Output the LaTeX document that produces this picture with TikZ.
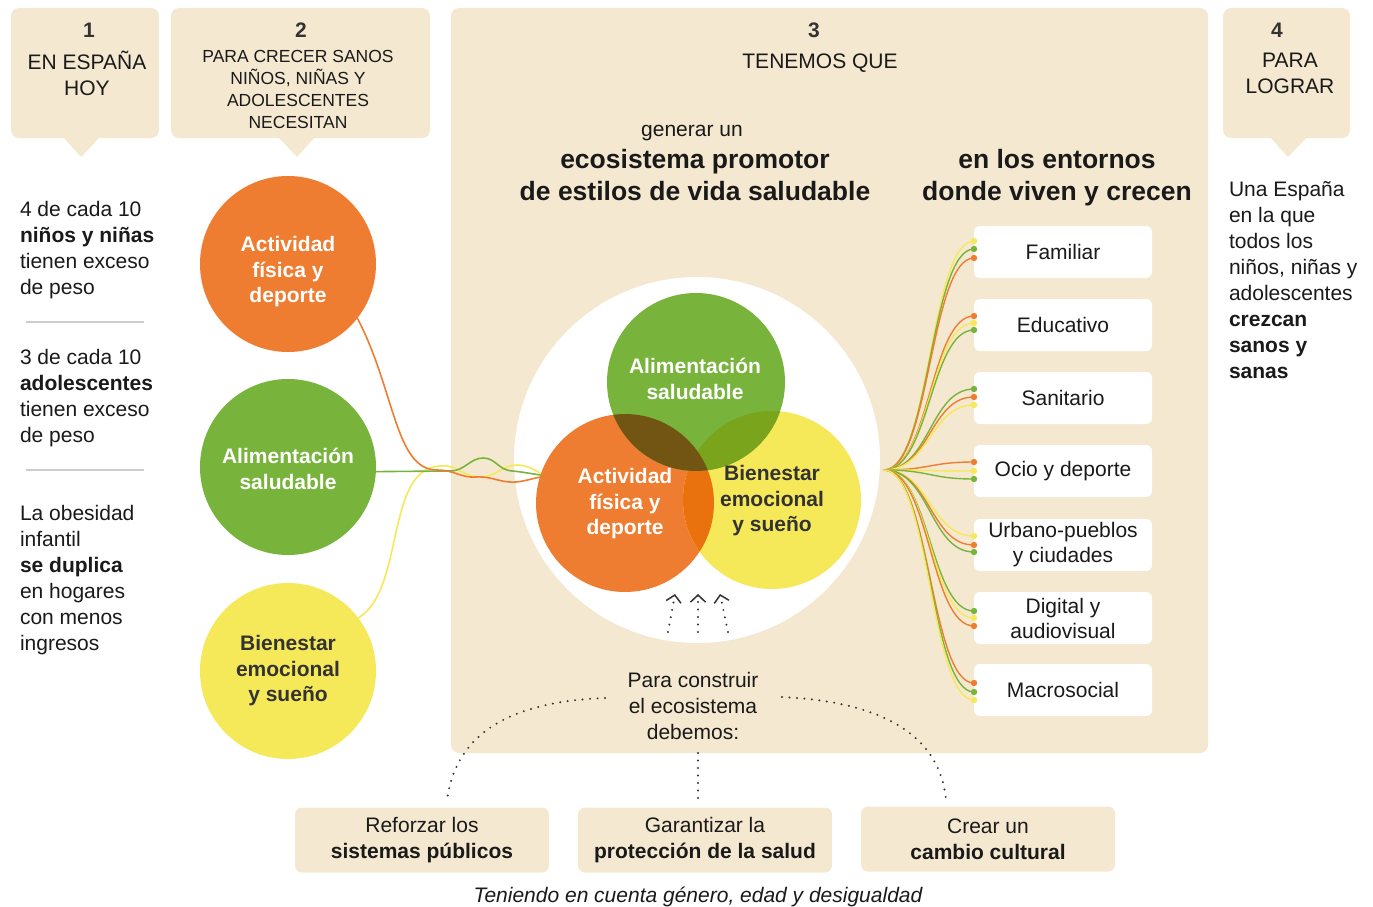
\documentclass[tikz,border=0pt]{standalone}
\usepackage{fontspec}
\setmainfont{Liberation Sans}
\usetikzlibrary{arrows.meta}
\definecolor{beige}{HTML}{F5E8D0}
\definecolor{cor}{HTML}{EE7D31}
\definecolor{cgr}{HTML}{78B43C}
\definecolor{cye}{HTML}{F5E859}
\definecolor{ink}{HTML}{1A1A1A}
\definecolor{numc}{HTML}{333333}
\definecolor{ovog}{HTML}{725512}
\definecolor{ovgy}{HTML}{79A41B}
\definecolor{ovoy}{HTML}{E9720F}
\definecolor{sepc}{HTML}{CCCCCC}
\definecolor{dotc}{HTML}{333333}
\begin{document}
\begin{tikzpicture}[x=1pt,y=-1pt,
  body/.style={font=\fontsize{21}{26}\selectfont, text=ink, inner sep=0pt, outer sep=0pt},
  num/.style={font=\fontsize{21}{26}\selectfont\bfseries, text=numc, inner sep=0pt},
  small/.style={font=\fontsize{17.5}{22}\selectfont, text=ink, inner sep=0pt, align=center},
  big/.style={font=\fontsize{26.5}{32}\selectfont\bfseries, text=ink, inner sep=0pt, align=center},
  ctext/.style={font=\fontsize{21}{25.5}\selectfont\bfseries, inner sep=0pt, align=center},
  bigcirc/.style={circle, inner sep=0pt, outer sep=0pt, minimum size=176pt},
  midcirc/.style={circle, inner sep=0pt, outer sep=0pt, minimum size=178pt},
  envbox/.style={fill=white, rounded corners=6pt, minimum width=178pt, minimum height=52pt, inner sep=0pt, align=center, font=\fontsize{21}{25}\selectfont, text=ink},
  actbox/.style={fill=beige, rounded corners=7pt, minimum width=254pt, minimum height=65pt, inner sep=0pt, align=center, font=\fontsize{21}{26}\selectfont, text=ink},
  link/.style={line width=1.6pt},
  dotline/.style={dotc, line width=2.2pt, line cap=round, dash pattern=on 0pt off 7.5pt},
  chev/.style={-{Straight Barb[length=7pt,width=15pt,line width=1.5pt]}}
]
\path[use as bounding box, fill=white] (0,0) rectangle (1373,907);

% header boxes
\fill[beige, rounded corners=8pt] (11,8) rectangle (159,138);
\fill[beige] (63,137) -- (100,137) -- (81,157) -- cycle;
\fill[beige, rounded corners=8pt] (171,8) rectangle (430,138);
\fill[beige] (278,137) -- (315,137) -- (297,157) -- cycle;
\fill[beige, rounded corners=8pt] (451,8) rectangle (1208,753);
\fill[beige, rounded corners=8pt] (1223,8) rectangle (1350,138);
\fill[beige] (1270,137) -- (1307,137) -- (1288,157) -- cycle;

\node[num] (n1) at (89,30) {1};
\node[body, align=center] (h1) at (87,73) {EN ESPAÑA\\HOY};
\node[num] (n2) at (301,30) {2};
\node[small] (h2) at (298,89) {PARA CRECER SANOS\\NIÑOS, NIÑAS Y\\ADOLESCENTES\\NECESITAN};
\node[num] (n3) at (814,30) {3};
\node[body] (h3) at (820,63) {TENEMOS QUE};
\node[num] (n4) at (1277,30) {4};
\node[body, align=center] (h4) at (1290,73) {PARA\\LOGRAR};

% left column
\node[body, align=left, anchor=west] (t1) at (20,250) {4 de cada 10\\\textbf{niños y niñas}\\tienen exceso\\de peso};
\draw[sepc, line width=1.5pt] (26,322) -- (144,322);
\node[body, align=left, anchor=west] (t2) at (20,398) {3 de cada 10\\\textbf{adolescentes}\\tienen exceso\\de peso};
\draw[sepc, line width=1.5pt] (26,470) -- (144,470);
\node[body, align=left, anchor=west] (t3) at (20,580) {La obesidad\\infantil\\\textbf{se duplica}\\en hogares\\con menos\\ingresos};

% right column
\node[body, align=left, anchor=west] (t4) at (1229,280) {Una España\\en la que\\todos los\\niños, niñas y\\adolescentes\\\textbf{crezcan}\\\textbf{sanos y}\\\textbf{sanas}};

% section 3 headers
\node[body] (g1) at (692,133) {generar un};
\node[big] (g2) at (695,175) {ecosistema promotor\\de estilos de vida saludable};
\node[big] (g3) at (1057,178) {en los entornos\\donde viven y crecen};

% white circle
\fill[white] (697,460) circle (183pt);

% left circles
\node[bigcirc, fill=cor] (oc) at (288,264) {};
\node[bigcirc, fill=cgr] (gc) at (288,467) {};
\node[bigcirc, fill=cye] (yc) at (288,671) {};
\node[ctext, text=white] at (288,272) {Actividad\\física y\\deporte};
\node[ctext, text=white] at (288,469) {Alimentación\\saludable};
\node[ctext, text=numc] at (288,671) {Bienestar\\emocional\\y sueño};

% center circles
\node[midcirc, fill=cor] (ca) at (625,503) {};
\node[midcirc, fill=cye] (cy) at (772,500) {};
\node[midcirc, fill=cgr] (cg) at (696,382) {};
\begin{scope}\clip (625,503) circle (89pt); \fill[ovoy] (772,500) circle (89pt);\end{scope}
\begin{scope}\clip (696,382) circle (89pt); \fill[ovgy] (772,500) circle (89pt);\end{scope}
\begin{scope}\clip (625,503) circle (89pt); \fill[ovog] (696,382) circle (89pt);\end{scope}
\node[ctext, text=white] at (695,379) {Alimentación\\saludable};
\node[ctext, text=white] at (625,504) {Actividad\\física y\\deporte};
\node[ctext, text=numc] at (772,501) {Bienestar\\emocional\\y sueño};

% links left circles -> center
\coordinate (endo) at (541,477);
\coordinate (endg) at (541,475);
\coordinate (endy) at (541,473);
\draw[link, cye] (yc.37) .. controls (405,590) and (385,468) .. (440,466)
  .. controls (458,464) and (462,477) .. (480,477)
  .. controls (497,477) and (502,465) .. (517,465)
  .. controls (528,465) and (535,471) .. (endy);
\draw[link, cgr] (gc.-3) -- (450,471)
  .. controls (465,471) and (470,458) .. (483,458)
  .. controls (496,458) and (498,470) .. (512,471)
  .. controls (524,472) and (532,474) .. (endg);
\draw[link, cor] (oc.-38) .. controls (395,390) and (395,470) .. (437,470)
  .. controls (455,470) and (460,478) .. (476,477)
  .. controls (492,476) and (500,483) .. (516,482)
  .. controls (526,481) and (534,478) .. (endo);

% fan to environments
\coordinate (fo) at (884,470);
\foreach \yy/\cc in {241/cye,249/cgr,258/cor,316/cor,323/cye,330/cgr,389/cgr,397/cor,405/cye,462/cor,471/cye,479/cgr,536/cye,545/cor,552/cgr,611/cgr,618/cye,626/cor,683/cor,692/cgr,700/cye}{
  \draw[\cc, line width=1.4pt] (fo) .. controls (930,470) and (930,\yy) .. (974,\yy);
}
\node[envbox] (e1) at (1063,252) {Familiar};
\node[envbox] (e2) at (1063,325) {Educativo};
\node[envbox] (e3) at (1063,398) {Sanitario};
\node[envbox] (e4) at (1063,471) {Ocio y deporte};
\node[envbox] (e5) at (1063,545) {Urbano-pueblos\\y ciudades};
\node[envbox] (e6) at (1063,618) {Digital y\\audiovisual};
\node[envbox] (e7) at (1063,690) {Macrosocial};
\foreach \yy/\cc in {241/cye,249/cgr,258/cor,316/cor,323/cye,330/cgr,389/cgr,397/cor,405/cye,462/cor,471/cye,479/cgr,536/cye,545/cor,552/cgr,611/cgr,618/cye,626/cor,683/cor,692/cgr,700/cye}{
  \fill[\cc] (974,\yy) circle (3.2pt);
}

% bottom
\node[body, align=center] (pc) at (693,706) {Para construir\\el ecosistema\\debemos:};
\coordinate (a1s) at (668,632); \coordinate (a1e) at (675,594);
\coordinate (a2s) at (698,632); \coordinate (a2e) at (698,594);
\coordinate (a3s) at (728,632); \coordinate (a3e) at (720,594);
\draw[dotline, chev] (a1s) -- (a1e);
\draw[dotline, chev] (a2s) -- (a2e);
\draw[dotline, chev] (a3s) -- (a3e);

\node[actbox] (b1) at (422,840) {Reforzar los\\\textbf{sistemas públicos}};
\node[actbox] (b2) at (705,840) {Garantizar la\\\textbf{protección de la salud}};
\node[actbox] (b3) at (988,839) {Crear un\\\textbf{cambio cultural}};
\draw[dotline] (605,698) .. controls (500,702) and (455,740) .. ([xshift=25pt,yshift=7pt]b1.north);
\draw[dotline] (698,753) -- ([xshift=-7pt,yshift=7pt]b2.north);
\draw[dotline] (782,697) .. controls (890,702) and (940,740) .. ([xshift=-42pt,yshift=7pt]b3.north);

\node[body, font=\fontsize{21}{26}\selectfont\itshape] (cap) at (698,897) {Teniendo en cuenta género, edad y desigualdad};
\end{tikzpicture}
\end{document}
